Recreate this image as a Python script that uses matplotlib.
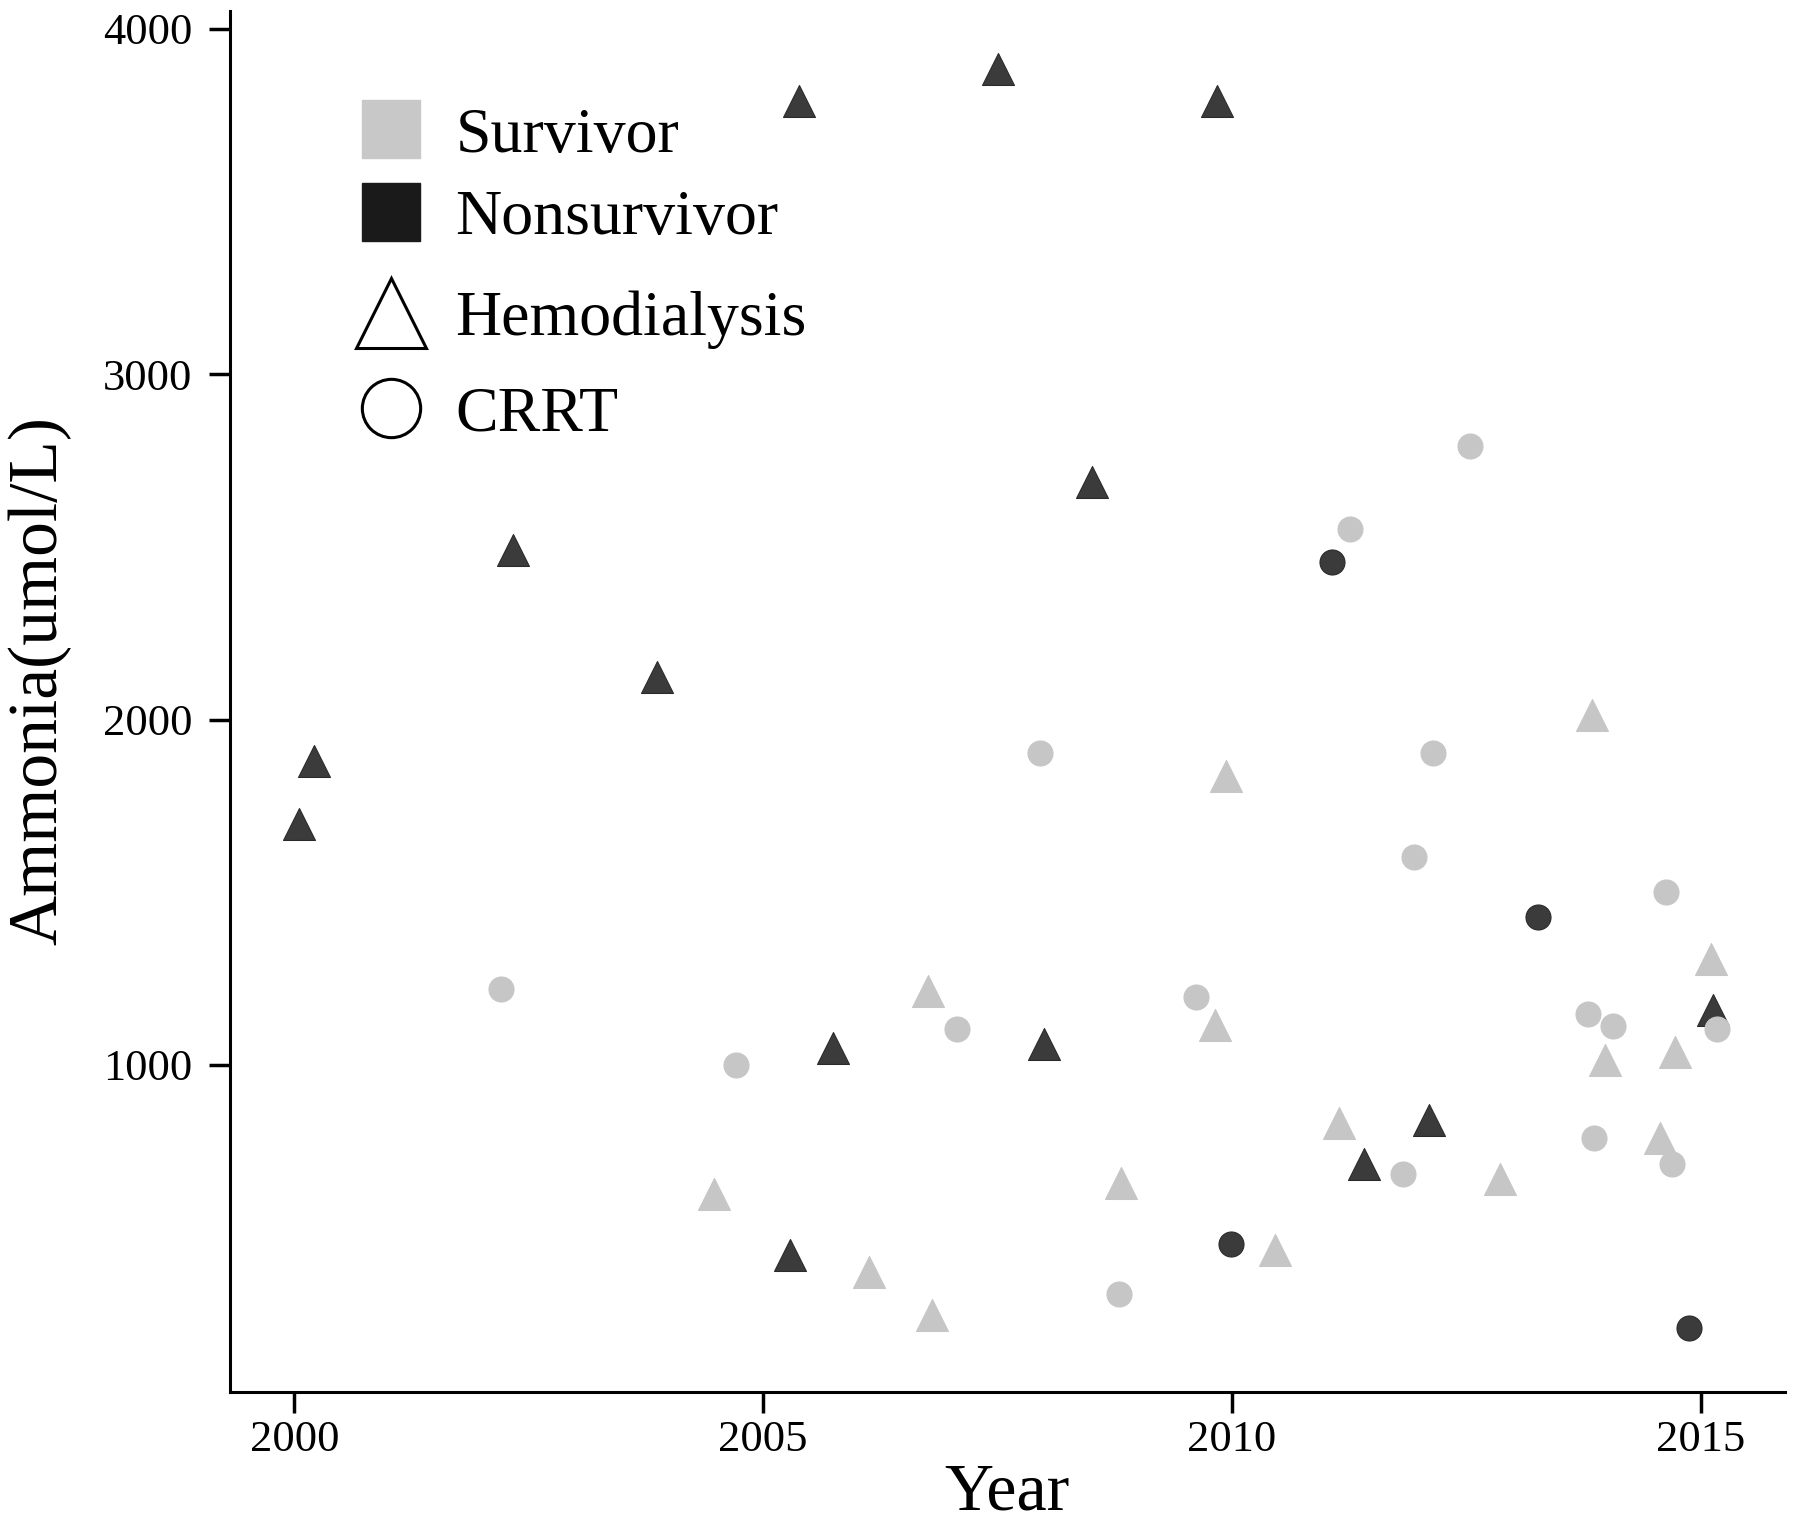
import matplotlib.pyplot as plt
from matplotlib.lines import Line2D

plt.rcParams['font.family'] = ['Liberation Serif', 'DejaVu Serif']

# Datos
# Nonsurvivor - Hemodialysis
yr_nh = [2000.05, 2000.21, 2002.33, 2003.87, 2005.38, 2007.51, 2009.84, 2008.51,
         2005.75, 2008.00, 2005.29, 2011.41, 2012.10, 2015.13]
nh3_nh = [1698, 1880, 2492, 2123, 3791, 3884, 3791, 2688,
          1050, 1060, 449, 714, 841, 1160]

# Nonsurvivor - CRRT
yr_nc = [2011.07, 2013.27, 2009.99, 2014.88]
nh3_nc = [2455, 1429, 482, 239]

# Survivor - Hemodialysis
yr_sh = [2004.48, 2006.13, 2006.80, 2006.76, 2008.82, 2009.94, 2009.82, 2010.46,
         2011.14, 2012.86, 2013.84, 2013.98, 2014.73, 2014.57, 2015.11]
nh3_sh = [625, 399, 276, 1213, 658, 1837, 1116, 465,
          831, 671, 2013, 1013, 1037, 787, 1306]

# Survivor - CRRT
yr_sc = [2002.20, 2004.71, 2007.95, 2007.07, 2008.80, 2009.62, 2011.26, 2012.54,
         2012.15, 2011.94, 2011.83, 2014.63, 2013.80, 2014.06, 2013.86, 2014.69, 2015.17]
nh3_sc = [1219, 1000, 1904, 1103, 336, 1196, 2551, 2791,
          1904, 1601, 684, 1502, 1146, 1113, 787, 714, 1103]

dark = '#3b3b3b'
light = '#c6c6c6'

fig = plt.figure(figsize=(18, 15.3), dpi=100)
ax = fig.add_axes([0.1276, 0.0902, 0.8641, 0.9023])

ax.scatter(yr_nh, nh3_nh, marker='^', s=23**2, color=dark, edgecolors='#2a2a2a', linewidths=0.8, zorder=3)
ax.scatter(yr_nc, nh3_nc, marker='o', s=18**2, color=dark, edgecolors='#2a2a2a', linewidths=0.8, zorder=3)
ax.scatter(yr_sh, nh3_sh, marker='^', s=23**2, color=light, edgecolors=light, linewidths=0.8, zorder=3)
ax.scatter(yr_sc, nh3_sc, marker='o', s=18**2, color=light, edgecolors=light, linewidths=0.8, zorder=3)

ax.set_xlim(1999.31, 2015.9)
ax.set_ylim(53, 4050)
ax.set_xticks([2000, 2005, 2010, 2015])
ax.set_yticks([1000, 2000, 3000, 4000])

for s in ['top', 'right']:
    ax.spines[s].set_visible(False)
for s in ['left', 'bottom']:
    ax.spines[s].set_linewidth(2.2)
ax.tick_params(axis='both', direction='out', length=15, width=2.5, labelsize=32)
ax.tick_params(axis='x', pad=5)
ax.tick_params(axis='y', pad=12)

ax.set_xlabel('Year', fontsize=49, labelpad=2)
ax.set_ylabel('Ammonia(umol/L)', fontsize=50)
ax.yaxis.set_label_coords(-0.102, 0.515)

# Leyendas
h_color = [Line2D([], [], ls='none', marker='s', ms=42, mfc='#c8c8c8', mec='#c8c8c8'),
           Line2D([], [], ls='none', marker='s', ms=42, mfc='#1a1a1a', mec='#1a1a1a')]
leg1 = fig.legend(h_color, ['Survivor', 'Nonsurvivor'], loc='upper left',
                  bbox_to_anchor=(0.182, 0.951), frameon=False, fontsize=46,
                  handlelength=1.0, handletextpad=0.5, labelspacing=0.37, borderpad=0)
h_shape = [Line2D([], [], ls='none', marker='^', ms=50, mfc='white', mec='black', mew=2.2),
           Line2D([], [], ls='none', marker='o', ms=42, mfc='white', mec='black', mew=2.2)]
leg2 = fig.legend(h_shape, ['Hemodialysis', 'CRRT'], loc='upper left',
                  bbox_to_anchor=(0.182, 0.831), frameon=False, fontsize=46,
                  handlelength=1.0, handletextpad=0.5, labelspacing=0.57, borderpad=0)

plt.savefig('out.png')
